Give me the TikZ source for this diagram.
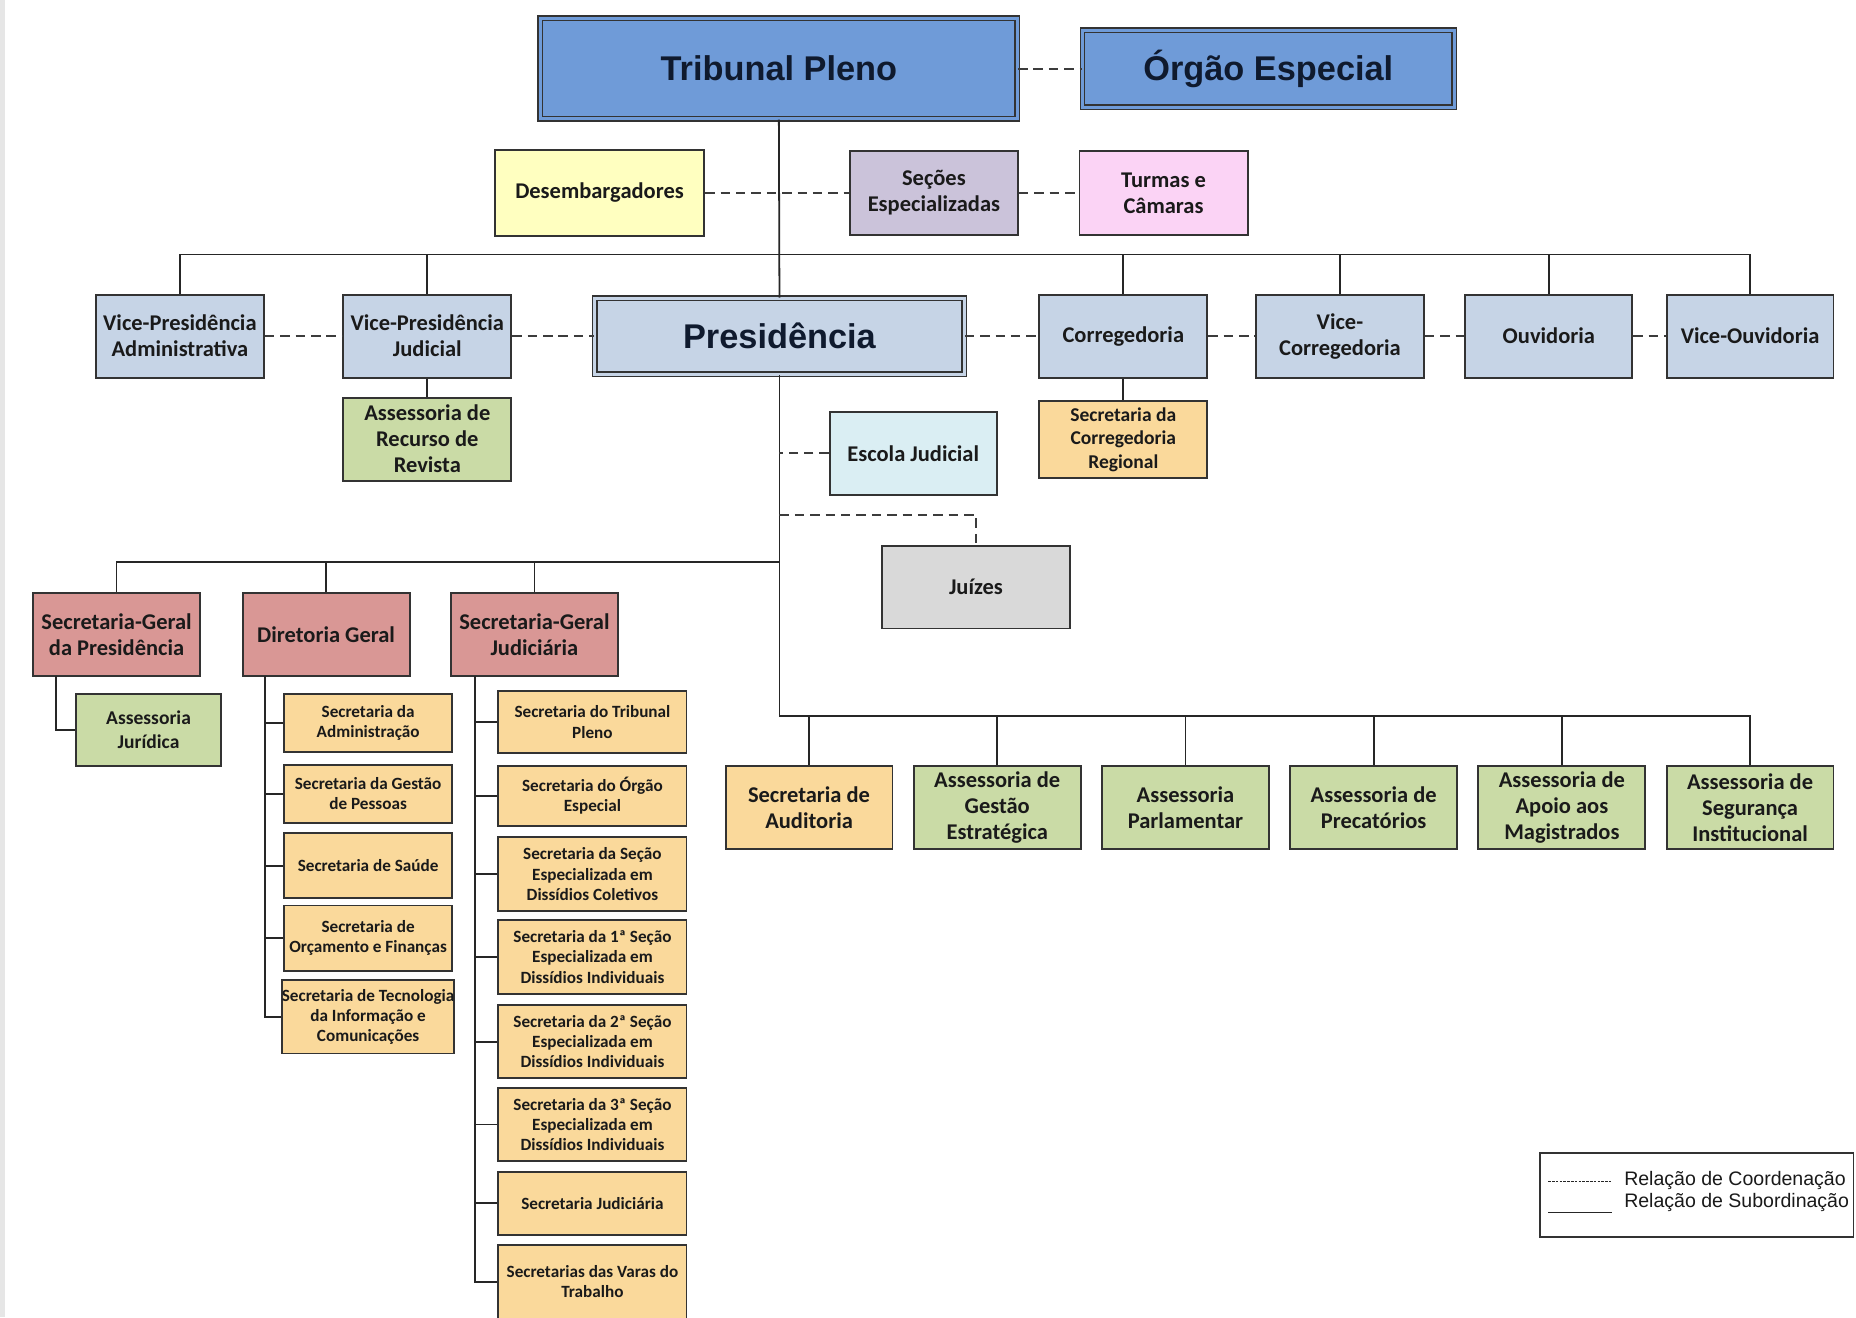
\documentclass[tikz,border=0pt]{standalone}
\usepackage{fontspec}
\setmainfont{Carlito}
\newfontfamily\arialf{Liberation Sans}
\definecolor{bord}{HTML}{333333}
\definecolor{lnc}{HTML}{262626}
\definecolor{txt}{HTML}{1A1A1A}
\definecolor{ttl}{HTML}{0F1A2E}
\definecolor{tpblue}{HTML}{6F9BD8}
\definecolor{vpblue}{HTML}{C6D4E6}
\definecolor{yel}{HTML}{FFFFC0}
\definecolor{lav}{HTML}{CBC3DA}
\definecolor{pnk}{HTML}{FBD3F5}
\definecolor{grn}{HTML}{CADBA6}
\definecolor{pch}{HTML}{FAD99B}
\definecolor{cyn}{HTML}{DAEEF3}
\definecolor{gry}{HTML}{D9D9D9}
\definecolor{rdd}{HTML}{D99795}
\definecolor{band}{HTML}{E6E6E6}
\tikzset{
  base/.style={draw=bord, line width=1.6pt, inner sep=0pt, align=center, text=txt,
    font=\bfseries\fontsize{19}{22}\selectfont},
  bw/.style={minimum width=#1pt},
  bh/.style={minimum height=#1pt},
  dbl/.style={draw=bord, line width=1.2pt, double distance=2.6pt, text=ttl,
    font=\arialf\bfseries\fontsize{29}{34}\selectfont},
  smalltxt/.style={font=\bfseries\fontsize{14.5}{17}\selectfont},
  midtxt/.style={font=\bfseries\fontsize{16.5}{20}\selectfont},
  sub/.style={draw=lnc, line width=1.5pt},
  coord/.style={draw=lnc!90, line width=1.6pt, dash pattern=on 8pt off 5pt},
  legtxt/.style={font=\arialf\fontsize{16.5}{19}\selectfont, text=txt, anchor=west, inner sep=0pt},
}
\begin{document}
\begin{tikzpicture}[x=1pt, y=-1pt]
\useasboundingbox (0,0) rectangle (1568,1113);
\fill[white] (0,0) rectangle (1568,1113);
\fill[band] (0,0) rectangle (4,1113);

% top
\node[base, dbl, fill=tpblue, double=tpblue, bw=403, bh=85] (tp) at (658,58) {Tribunal Pleno};
\node[base, dbl, fill=tpblue, double=tpblue, bw=314, bh=65] (oe) at (1071.5,58) {Órgão Especial};
\node[base, fill=yel, bw=177, bh=73] (des) at (506.5,163) {Desembargadores};
\node[base, fill=lav, bw=142, bh=71] (sec) at (789,163) {Seções\\Especializadas};
\node[base, fill=pnk, bw=142, bh=71] (tur) at (983,163) {Turmas e\\Câmaras};

% second row
\node[base, fill=vpblue, bw=142, bh=70] (vpa) at (152,284) {Vice-Presidência\\Administrativa};
\node[base, fill=vpblue, bw=142, bh=70] (vpj) at (361,284) {Vice-Presidência\\Judicial};
\node[base, dbl, fill=vpblue, double=vpblue, bw=312, bh=64] (pres) at (658.5,284) {Presidência};
\node[base, fill=vpblue, bw=142, bh=70] (cor) at (949,284) {Corregedoria};
\node[base, fill=vpblue, bw=142, bh=70] (vco) at (1132,284) {Vice-\\Corregedoria};
\node[base, fill=vpblue, bw=141, bh=70] (ouv) at (1308.5,284) {Ouvidoria};
\node[base, fill=vpblue, bw=141, bh=70] (vou) at (1478.5,284) {Vice-Ouvidoria};

\node[base, fill=grn, bw=142, bh=70] (arr) at (361,371) {Assessoria de\\Recurso de\\Revista};
\node[base, midtxt, fill=pch, bw=142, bh=65] (scr) at (949,371.5) {Secretaria da\\Corregedoria\\Regional};
\node[base, fill=cyn, bw=141, bh=70] (esc) at (771.5,383) {Escola Judicial};
\node[base, fill=gry, bw=159, bh=70] (jui) at (824.5,496) {Juízes};

% red row
\node[base, fill=rdd, bw=141, bh=70] (sgp) at (98.5,536) {Secretaria-Geral\\da Presidência};
\node[base, fill=rdd, bw=141, bh=70] (dg) at (275.5,536) {Diretoria Geral};
\node[base, fill=rdd, bw=141, bh=70] (sgj) at (451.5,536) {Secretaria-Geral\\Judiciária};
\node[base, midtxt, fill=grn, bw=123, bh=61] (aj) at (125.5,616.5) {Assessoria\\Jurídica};

% Diretoria Geral children
\node[base, smalltxt, fill=pch, bw=142, bh=49] (d1) at (311,610.5) {Secretaria da\\Administração};
\node[base, smalltxt, fill=pch, bw=142, bh=49] (d2) at (311,670.5) {Secretaria da Gestão\\de Pessoas};
\node[base, smalltxt, fill=pch, bw=142, bh=55] (d3) at (311,731.5) {Secretaria de Saúde};
\node[base, smalltxt, fill=pch, bw=142, bh=55] (d4) at (311,792.5) {Secretaria de\\Orçamento e Finanças};
\node[base, smalltxt, fill=pch, bw=142, bh=62] (d5) at (311,859) {Secretaria de Tecnologia\\da Informação e\\Comunicações};

% Secretaria-Geral Judiciaria children
\node[base, smalltxt, fill=pch, bw=159, bh=52] (j1) at (500.5,610) {Secretaria do Tribunal\\Pleno};
\node[base, smalltxt, fill=pch, bw=159, bh=51] (j2) at (500.5,672.5) {Secretaria do Órgão\\Especial};
\node[base, smalltxt, fill=pch, bw=159, bh=63] (j3) at (500.5,738.5) {Secretaria da Seção\\Especializada em\\Dissídios Coletivos};
\node[base, smalltxt, fill=pch, bw=159, bh=63] (j4) at (500.5,808.5) {Secretaria da 1ª Seção\\Especializada em\\Dissídios Individuais};
\node[base, smalltxt, fill=pch, bw=159, bh=62] (j5) at (500.5,880) {Secretaria da 2ª Seção\\Especializada em\\Dissídios Individuais};
\node[base, smalltxt, fill=pch, bw=159, bh=62] (j6) at (500.5,950) {Secretaria da 3ª Seção\\Especializada em\\Dissídios Individuais};
\node[base, smalltxt, fill=pch, bw=159, bh=53] (j7) at (500.5,1016.5) {Secretaria Judiciária};
\node[base, smalltxt, fill=pch, bw=159, bh=62] (j8) at (500.5,1083) {Secretarias das Varas do\\Trabalho};

% bottom row
\node[base, fill=pch, bw=141, bh=70] (b1) at (683.5,682) {Secretaria de\\Auditoria};
\node[base, fill=grn, bw=141, bh=70] (b2) at (842.5,682) {Assessoria de\\Gestão\\Estratégica};
\node[base, fill=grn, bw=141, bh=70] (b3) at (1001.5,682) {Assessoria\\Parlamentar};
\node[base, fill=grn, bw=141, bh=70] (b4) at (1160.5,682) {Assessoria de\\Precatórios};
\node[base, fill=grn, bw=141, bh=70] (b5) at (1319.5,682) {Assessoria de\\Apoio aos\\Magistrados};
\node[base, fill=grn, bw=141, bh=70] (b6) at (1478.5,682) {Assessoria de\\Segurança\\Institucional};

% coordinates
\coordinate (bus) at (658.5,215);
\coordinate (lb) at (658.5,475);
\coordinate (tb) at (658.5,605);
\coordinate (jt) at (658.5,435);
\coordinate (ajs) at (47,571);
\coordinate (dgt) at (224,571);
\coordinate (sjt) at (401,571);

% subordination lines
\draw[sub] (tp.south) -- (pres.north);
\draw[sub] (vpa.north) -- (vpa.north |- bus) -- (vou.north |- bus) -- (vou.north);
\foreach \n in {vpj,cor,vco,ouv} \draw[sub] (\n.north) -- (\n.north |- bus);
\draw[sub] (vpj.south) -- (arr.north);
\draw[sub] (cor.south) -- (scr.north);
\draw[sub] (pres.south) -- (tb);
\draw[sub] (lb) -| (sgp.north);
\foreach \n in {dg,sgj} \draw[sub] (\n.north) -- (\n.north |- lb);
\draw[sub] (ajs) |- (aj.west);
\draw[sub] (dgt) |- (d5.west);
\foreach \n in {d1,d2,d3,d4} \draw[sub] (\n.west) -- (\n.west -| dgt);
\draw[sub] (sjt) |- (j8.west);
\foreach \n in {j1,j2,j3,j4,j5,j6,j7} \draw[sub] (\n.west) -- (\n.west -| sjt);
\draw[sub] (tb) -| (b6.north);
\foreach \n in {b1,b2,b3,b4,b5} \draw[sub] (\n.north) -- (\n.north |- tb);

% coordination lines
\draw[coord] (tp.east) -- (oe.west);
\draw[coord] (des.east) -- (sec.west);
\draw[coord] (sec.east) -- (tur.west);
\draw[coord] (vpa.east) -- (vpj.west);
\draw[coord] (vpj.east) -- (pres.west);
\draw[coord] (pres.east) -- (cor.west);
\draw[coord] (cor.east) -- (vco.west);
\draw[coord] (vco.east) -- (ouv.west);
\draw[coord] (ouv.east) -- (vou.west);
\draw[coord] (esc.west) -- (esc.west -| pres.south);
\draw[coord] (jt) -| (jui.north);

% legend
\node[draw=bord, line width=1.3pt, minimum width=265pt, minimum height=71pt, inner sep=0pt] (lg) at (1433.5,1009.5) {};
\node[legtxt] (lt1) at (1372,997) {Relação de Coordenação};
\node[legtxt] (lt2) at (1372,1016) {Relação de Subordinação};
\coordinate (l1a) at (1308,998);
\coordinate (l1b) at (1362,998);
\coordinate (l2a) at (1308,1024);
\coordinate (l2b) at (1362,1024);
\draw[lnc, line width=0.9pt, dash pattern=on 2.2pt off 1pt] (l1a) -- (l1b);
\draw[lnc, line width=0.9pt] (l2a) -- (l2b);
\end{tikzpicture}
\end{document}
